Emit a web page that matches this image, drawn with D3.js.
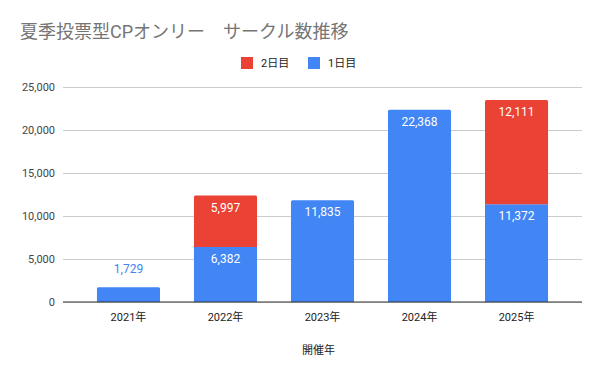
<!DOCTYPE html>
<html>
<head>
<meta charset="utf-8">
<script src="https://cdn.jsdelivr.net/npm/d3@7"></script>
<style>
  body { margin: 0; background: #fff; }
  svg { font-family: Roboto, "Noto Sans CJK JP", sans-serif; }
</style>
</head>
<body>
<div id="viz"></div>
<script>
// chart data
const years = ["2021年", "2022年", "2023年", "2024年", "2025年"];
const day1 = [1729, 6382, 11835, 22368, 11372];
const day2 = [0, 5997, 0, 0, 12111];
const yTicks = [0, 5000, 10000, 15000, 20000, 25000];

const width = 600;
const height = 371;
const margin = { left: 63, right: 18, top: 87, bottom: 69 };
const blue = "#4285f4";
const red = "#ea4335";

const svg = d3
  .select("#viz")
  .append("svg")
  .attr("width", width)
  .attr("height", height);

const x = d3
  .scaleBand()
  .domain(years)
  .range([margin.left, width - margin.right])
  .padding(0.35);

const y = d3
  .scaleLinear()
  .domain([0, 25000])
  .range([height - margin.bottom, margin.top]);

// title
svg
  .append("text")
  .attr("x", 20)
  .attr("y", 38)
  .attr("font-size", 18)
  .attr("fill", "#757575")
  .text("夏季投票型CPオンリー　サークル数推移");

// legend
const legend = [
  { name: "2日目", color: red, x: 241 },
  { name: "1日目", color: blue, x: 308 },
];
const lg = svg
  .selectAll("g.legend")
  .data(legend)
  .enter()
  .append("g")
  .classed("legend", true)
  .attr("transform", (d) => `translate(${d.x},57)`);
lg.append("rect").attr("width", 12).attr("height", 12).attr("fill", (d) => d.color);
lg.append("text")
  .attr("x", 20)
  .attr("y", 10)
  .attr("font-size", 11)
  .attr("fill", "#222")
  .text((d) => d.name);

// gridlines + y labels
const yAxis = d3
  .axisLeft(y)
  .tickValues(yTicks)
  .tickSize(-(width - margin.left - margin.right))
  .tickFormat(d3.format(","));
const gy = svg
  .append("g")
  .attr("transform", `translate(${margin.left},0)`)
  .call(yAxis);
gy.select(".domain").remove();
gy.selectAll(".tick line").attr("stroke", "#cccccc");
gy.selectAll(".tick text")
  .attr("x", -8)
  .attr("font-size", 11)
  .attr("fill", "#444")
  .attr("font-family", "Roboto, sans-serif");

// x axis
const gx = svg
  .append("g")
  .attr("transform", `translate(0,${height - margin.bottom})`)
  .call(d3.axisBottom(x).tickSize(0).tickPadding(11));
gx.select(".domain").remove();
gx.selectAll(".tick text")
  .attr("font-size", 11)
  .attr("fill", "#222")
  .attr("font-family", "Roboto, 'Noto Sans CJK JP', sans-serif");

// rounded top path helper
function barPath(x0, y0, w, h, r) {
  r = Math.min(r, h);
  return `M${x0},${y0 + h}V${y0 + r}Q${x0},${y0} ${x0 + r},${y0}H${x0 + w - r}Q${x0 + w},${y0} ${x0 + w},${y0 + r}V${y0 + h}Z`;
}

const stacked = years.map((yr, i) => ({ yr, d1: day1[i], d2: day2[i] }));

// day 1 bars
svg
  .selectAll("path.day1")
  .data(stacked)
  .enter()
  .append("path")
  .classed("day1", true)
  .attr("fill", blue)
  .attr("d", (d) =>
    barPath(x(d.yr), y(d.d1), x.bandwidth(), y(0) - y(d.d1), d.d2 ? 0 : 1.5)
  );

// day 2 bars
svg
  .selectAll("path.day2")
  .data(stacked.filter((d) => d.d2 > 0))
  .enter()
  .append("path")
  .classed("day2", true)
  .attr("fill", red)
  .attr("d", (d) =>
    barPath(x(d.yr), y(d.d1 + d.d2), x.bandwidth(), y(d.d1) - y(d.d1 + d.d2), 1.5)
  );

// baseline
svg
  .append("line")
  .attr("x1", margin.left)
  .attr("x2", width - margin.right)
  .attr("y1", y(0))
  .attr("y2", y(0))
  .attr("stroke", "#333");

const fmt = d3.format(",");

// day 1 labels
svg
  .selectAll("text.l1")
  .data(stacked)
  .enter()
  .append("text")
  .classed("l1", true)
  .attr("x", (d) => x(d.yr) + x.bandwidth() / 2)
  .attr("y", (d) => (y(0) - y(d.d1) < 25 ? y(d.d1) - 14 : y(d.d1) + 16))
  .attr("text-anchor", "middle")
  .attr("font-size", 12)
  .attr("fill", (d) => (y(0) - y(d.d1) < 25 ? blue : "#fff"))
  .text((d) => fmt(d.d1));

// day 2 labels
svg
  .selectAll("text.l2")
  .data(stacked.filter((d) => d.d2 > 0))
  .enter()
  .append("text")
  .classed("l2", true)
  .attr("x", (d) => x(d.yr) + x.bandwidth() / 2)
  .attr("y", (d) => y(d.d1 + d.d2) + 16)
  .attr("text-anchor", "middle")
  .attr("font-size", 12)
  .attr("fill", "#fff")
  .text((d) => fmt(d.d2));

// x axis title
svg
  .append("text")
  .attr("x", (margin.left + width - margin.right) / 2 - 4)
  .attr("y", 354)
  .attr("text-anchor", "middle")
  .attr("font-size", 11)
  .attr("fill", "#222")
  .attr("font-family", "'Noto Sans CJK JP', sans-serif")
  .text("開催年");
</script>
</body>
</html>
